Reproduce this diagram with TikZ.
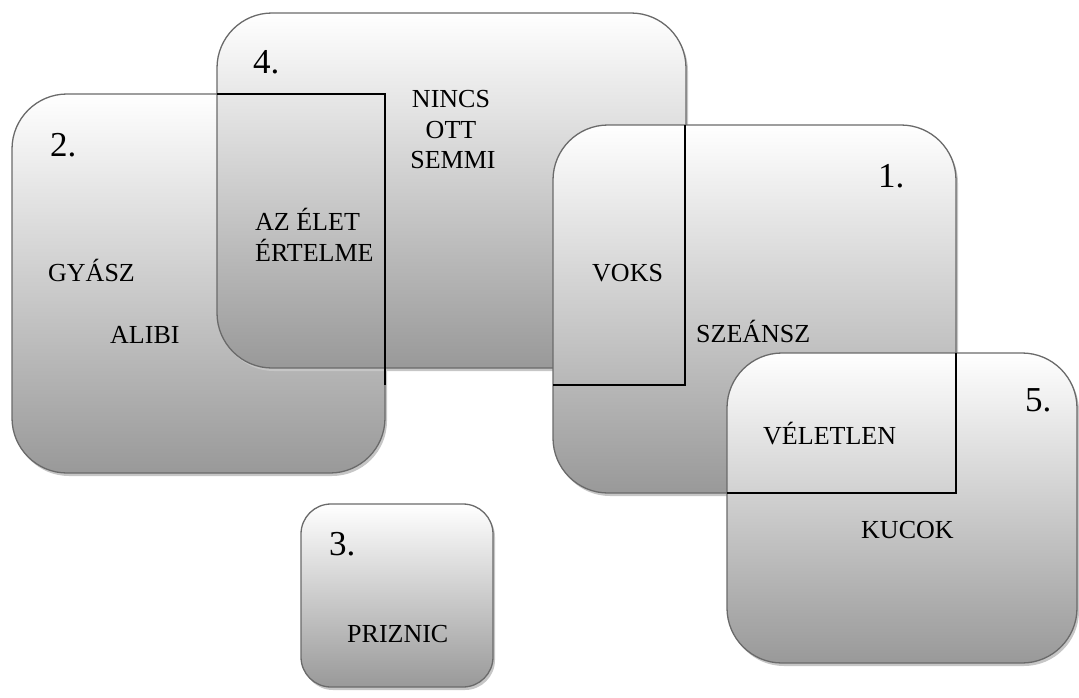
\documentclass[tikz,border=0pt]{standalone}
\usepackage{fontspec}
\setmainfont{Liberation Serif}
\usetikzlibrary{shadows}
\definecolor{edge}{HTML}{6A6A6A}
\begin{document}
\begin{tikzpicture}[x=1pt,y=-1pt,
  box/.style={rectangle, rounded corners=55pt, draw=edge, line width=1.3pt,
    top color=white, bottom color=black!40, inner sep=0pt, outer sep=0pt,
    general shadow={fill=gray!45, shadow xshift=2pt, shadow yshift=-3pt}},
  lbl/.style={inner sep=0pt, anchor=base west, font=\fontsize{26}{30}\selectfont},
  mid/.style={inner sep=0pt, anchor=base, font=\fontsize{26}{30}\selectfont},
  num/.style={inner sep=0pt, anchor=base west, font=\fontsize{35}{40}\selectfont},
  sepline/.style={draw=black, line width=1.4pt}]
\useasboundingbox (0,0) rectangle (1079,697);
% box 2
\node[box, minimum width=373pt, minimum height=379pt] (b2) at (198.5,283.5) {};
% box 4
\node[box, minimum width=469pt, minimum height=355pt] (b4) at (451.5,190.5) {};
\coordinate (c24) at (385,385);
\draw[sepline] (b4.west |- b2.north) -- (b2.north east) -- (c24);
% box 1
\node[box, minimum width=403pt, minimum height=368pt] (b1) at (754.5,309) {};
\coordinate (c41) at (685,385);
\draw[sepline] (c41 |- b1.north) -- (c41) -- (b1.west |- c41);
% box 5
\node[box, minimum width=350pt, minimum height=310pt] (b5) at (902,508) {};
\draw[sepline] (b1.east |- b5.north) -- (b1.south east) -- (b5.west |- b1.south);
% box 3
\node[box, rounded corners=30pt, minimum width=192pt, minimum height=183pt] (b3) at (397,595.5) {};
% labels
\node[num] (n2) at (50,156) {2.};
\node[num] (n4) at (253,73) {4.};
\node[num] (n1) at (878,187) {1.};
\node[num] (n5) at (1025,411) {5.};
\node[num] (n3) at (329,555) {3.};
\node[mid] (t1) at (451,107) {NINCS};
\node[mid] (t2) at (451,138) {OTT};
\node[mid] (t3) at (453,168) {SEMMI};
\node[lbl] (t4) at (255,230) {AZ ÉLET};
\node[lbl] (t5) at (255,261) {ÉRTELME};
\node[lbl] (t6) at (48,281) {GYÁSZ};
\node[lbl] (t7) at (110,343) {ALIBI};
\node[lbl] (t8) at (592,281) {VOKS};
\node[lbl] (t9) at (696,342) {SZEÁNSZ};
\node[lbl] (t10) at (763,444) {VÉLETLEN};
\node[lbl] (t11) at (861,538) {KUCOK};
\node[lbl] (t12) at (347,642) {PRIZNIC};
\end{tikzpicture}
\end{document}
